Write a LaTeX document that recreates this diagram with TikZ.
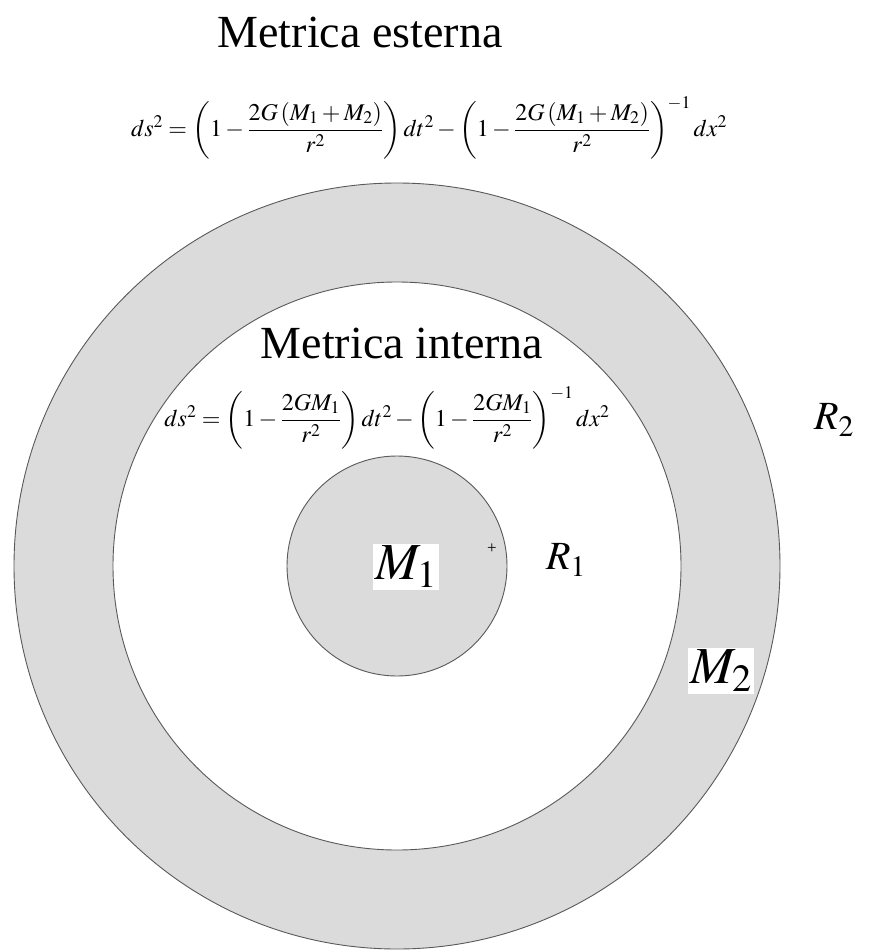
\documentclass[tikz,border=0pt]{standalone}
\usepackage{amsmath}
\usepackage{mathptmx}
\usepackage{fontspec}
\setmainfont{Liberation Serif}
\usetikzlibrary{positioning}

\begin{document}
\begin{tikzpicture}[x=1pt, y=-1pt,
  disc/.style={circle, draw=black!65, line width=0.9pt, inner sep=0pt},
  title/.style={inner sep=0pt, font=\fontsize{46}{50}\selectfont},
  formula/.style={inner sep=0pt, font=\fontsize{24}{26}\selectfont},
  mass/.style={fill=white, inner sep=2pt, font=\fontsize{52}{56}\selectfont},
  radius/.style={font=\fontsize{40}{44}\selectfont}
]
\useasboundingbox (0,0) rectangle (869,952);
% three concentric regions
\node[disc, fill=black!14, minimum size=766pt] (outer) at (397,566) {};
\node[disc, fill=white, minimum size=568pt] (inner) at (outer.center) {};
\node[disc, fill=black!14, minimum size=220pt] (core) at (outer.center) {};
\node[font=\fontsize{17}{17}\selectfont, inner sep=0pt] (plus) at (492,549) {+};

% exterior metric
\node[title] (ext) at (360,32) {Metrica esterna};
\node[formula] (extds) at (429,128)
  {$ds^2=\left(1-\dfrac{2G\left(M_1+M_2\right)}{r^2}\right)dt^2-\left(1-\dfrac{2G\left(M_1+M_2\right)}{r^2}\right)^{-1}dx^2$};

% interior metric
\node[title] (int) at (402,343) {Metrica interna};
\node[formula] (intds) at (387,418)
  {$ds^2=\left(1-\dfrac{2GM_1}{r^2}\right)dt^2-\left(1-\dfrac{2GM_1}{r^2}\right)^{-1}dx^2$};

% masses and radii
\node[mass] (m1) at (406,567) {$M_1$};
\node[mass] (m2) at (721,671) {$M_2$};
\node[radius] (r1) at (566,560) {$R_1$};
\node[radius] (r2) at (834,420) {$R_2$};
\end{tikzpicture}
\end{document}
